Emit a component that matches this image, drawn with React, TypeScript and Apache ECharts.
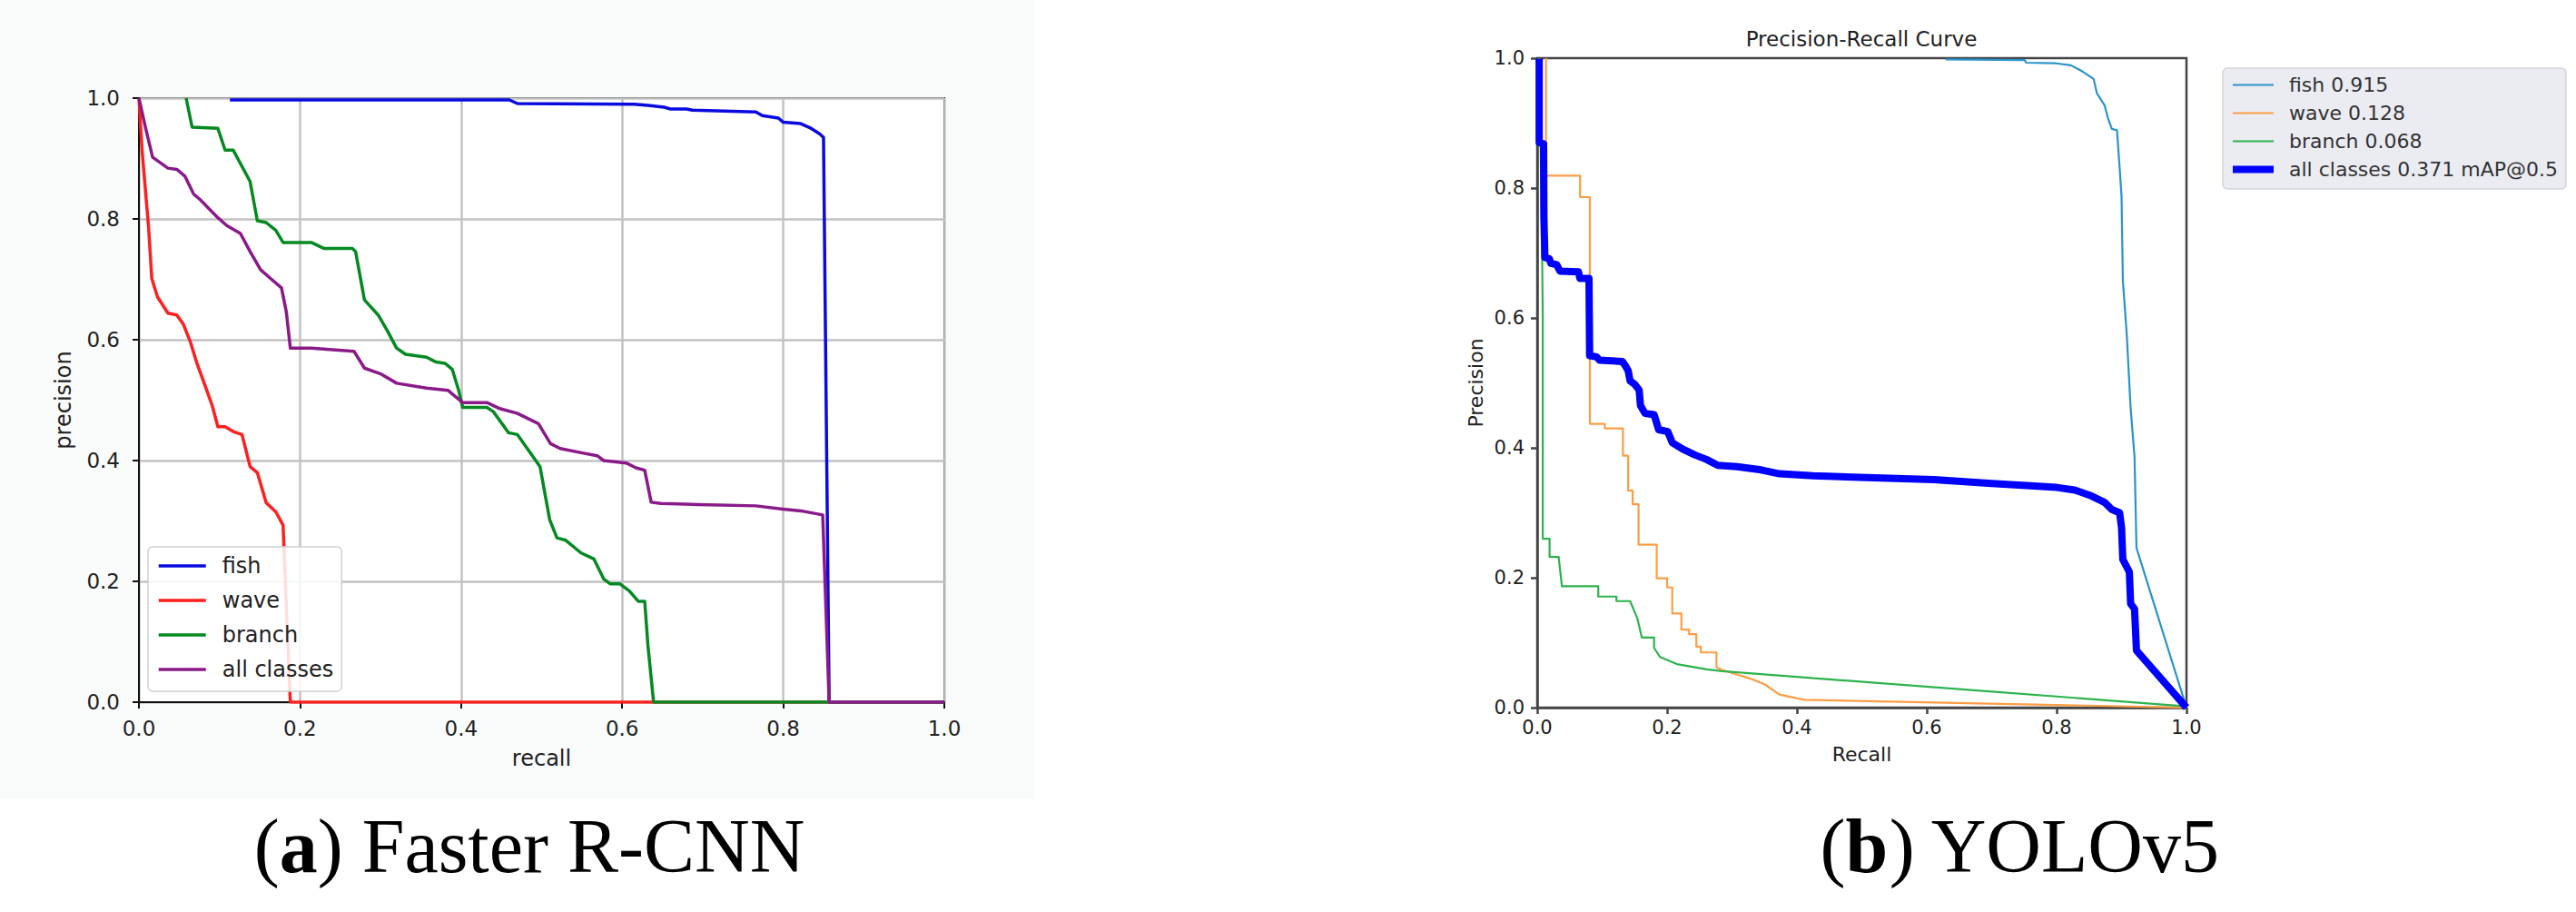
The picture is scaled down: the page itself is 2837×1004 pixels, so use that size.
import React, { useEffect, useRef } from 'react';
import * as echarts from 'echarts';

// ---------- data ----------
const TICK_STEP = 0.2;
const AXIS_MIN = 0;
const AXIS_MAX = 1;

// (a) Faster R-CNN  — [recall, precision]
const frcnnNames = ['fish', 'wave', 'branch', 'all classes'];
const frcnnFish: number[][] = [
  [0.113, 0.997], [0.46, 0.997], [0.47, 0.991], [0.615, 0.99], [0.632, 0.988], [0.652, 0.985],
  [0.66, 0.982], [0.68, 0.982], [0.687, 0.98], [0.766, 0.977], [0.774, 0.971], [0.794, 0.967],
  [0.8, 0.96], [0.821, 0.958], [0.833, 0.951], [0.845, 0.941], [0.85, 0.935], [0.857, 0.0], [1.0, 0.0],
];
const frcnnWave: number[][] = [
  [0.0, 1.0], [0.004, 0.912], [0.012, 0.786], [0.016, 0.701], [0.023, 0.671], [0.036, 0.644],
  [0.047, 0.641], [0.055, 0.626], [0.064, 0.596], [0.072, 0.561], [0.083, 0.521], [0.091, 0.491],
  [0.098, 0.456], [0.107, 0.456], [0.117, 0.448], [0.128, 0.443], [0.138, 0.39], [0.147, 0.38],
  [0.158, 0.33], [0.17, 0.315], [0.179, 0.293], [0.18, 0.26], [0.184, 0.125], [0.188, 0.0], [1.0, 0.0],
];
const frcnnBranch: number[][] = [
  [0.0586, 1.0], [0.066, 0.952], [0.098, 0.95], [0.107, 0.914], [0.117, 0.914], [0.138, 0.862],
  [0.147, 0.797], [0.158, 0.794], [0.17, 0.781], [0.179, 0.761], [0.214, 0.761], [0.23, 0.751],
  [0.265, 0.751], [0.269, 0.746], [0.28, 0.666], [0.297, 0.641], [0.308, 0.616], [0.32, 0.586],
  [0.331, 0.576], [0.357, 0.571], [0.369, 0.563], [0.38, 0.561], [0.389, 0.551], [0.397, 0.516],
  [0.402, 0.488], [0.432, 0.488], [0.44, 0.481], [0.459, 0.446], [0.47, 0.443], [0.498, 0.39],
  [0.51, 0.302], [0.519, 0.272], [0.53, 0.268], [0.549, 0.247], [0.565, 0.237], [0.577, 0.204],
  [0.585, 0.196], [0.597, 0.196], [0.609, 0.184], [0.62, 0.167], [0.628, 0.167], [0.632, 0.094],
  [0.639, 0.0], [1.0, 0.0],
];
const frcnnAll: number[][] = [
  [0.0, 1.0], [0.008, 0.952], [0.017, 0.902], [0.036, 0.884], [0.047, 0.882], [0.057, 0.871],
  [0.068, 0.841], [0.076, 0.832], [0.098, 0.802], [0.109, 0.789], [0.126, 0.776], [0.138, 0.746],
  [0.151, 0.716], [0.162, 0.703], [0.177, 0.686], [0.183, 0.646], [0.188, 0.586], [0.214, 0.586],
  [0.267, 0.581], [0.28, 0.553], [0.301, 0.543], [0.32, 0.528], [0.357, 0.52], [0.384, 0.516],
  [0.391, 0.508], [0.402, 0.496], [0.432, 0.496], [0.448, 0.486], [0.47, 0.478], [0.496, 0.461],
  [0.511, 0.428], [0.523, 0.42], [0.549, 0.413], [0.569, 0.408], [0.577, 0.4], [0.605, 0.396],
  [0.617, 0.388], [0.628, 0.384], [0.636, 0.331], [0.648, 0.329], [0.695, 0.327], [0.766, 0.325],
  [0.797, 0.32], [0.825, 0.316], [0.849, 0.31], [0.857, 0.0], [1.0, 0.0],
];

// (b) YOLOv5 — [recall, precision]
const yoloNames = ['fish 0.915', 'wave 0.128', 'branch 0.068', 'all classes 0.371 mAP@0.5'];
const yoloFish: number[][] = [
  [0.629, 0.998], [0.751, 0.997], [0.753, 0.993], [0.799, 0.992], [0.822, 0.989], [0.839, 0.98],
  [0.857, 0.968], [0.862, 0.946], [0.874, 0.927], [0.879, 0.908], [0.885, 0.891], [0.893, 0.889],
  [0.897, 0.832], [0.9, 0.787], [0.902, 0.658], [0.908, 0.575], [0.914, 0.461], [0.92, 0.386],
  [0.923, 0.246], [1.0, 0.0],
];
const yoloWave: number[][] = [
  [0.0135, 1.0], [0.0135, 0.819], [0.066, 0.819], [0.066, 0.786], [0.081, 0.786], [0.081, 0.437],
  [0.104, 0.437], [0.104, 0.43], [0.132, 0.43], [0.132, 0.388], [0.14, 0.388], [0.14, 0.334],
  [0.147, 0.334], [0.147, 0.313], [0.156, 0.313], [0.156, 0.251], [0.184, 0.251], [0.184, 0.199],
  [0.2, 0.199], [0.2, 0.185], [0.208, 0.185], [0.208, 0.145], [0.222, 0.145], [0.222, 0.12],
  [0.234, 0.12], [0.234, 0.113], [0.245, 0.113], [0.245, 0.094], [0.252, 0.094], [0.252, 0.085],
  [0.276, 0.085], [0.276, 0.062], [0.285, 0.058], [0.327, 0.045], [0.35, 0.036], [0.373, 0.02],
  [0.411, 0.012], [0.611, 0.008], [1.0, 0.0],
];
const yoloBranch: number[][] = [
  [0.003, 1.0], [0.007, 0.754], [0.0085, 0.6], [0.0085, 0.26], [0.019, 0.26], [0.019, 0.232],
  [0.033, 0.232], [0.038, 0.187], [0.094, 0.187], [0.094, 0.171], [0.122, 0.171], [0.122, 0.164],
  [0.143, 0.164], [0.154, 0.138], [0.161, 0.108], [0.18, 0.108], [0.18, 0.092], [0.189, 0.078],
  [0.215, 0.067], [0.261, 0.059], [0.285, 0.056], [1.0, 0.002],
];
const yoloAll: number[][] = [
  [0.003, 0.999], [0.003, 0.87], [0.0098, 0.868], [0.0103, 0.754], [0.0118, 0.693], [0.0187, 0.691],
  [0.021, 0.684], [0.03, 0.682], [0.035, 0.672], [0.0634, 0.671], [0.0657, 0.661], [0.0797, 0.661],
  [0.0807, 0.542], [0.0914, 0.54], [0.096, 0.535], [0.131, 0.533], [0.136, 0.526], [0.14, 0.519],
  [0.143, 0.503], [0.15, 0.498], [0.157, 0.489], [0.159, 0.465], [0.166, 0.453], [0.18, 0.451],
  [0.187, 0.428], [0.201, 0.425], [0.208, 0.408], [0.224, 0.398], [0.243, 0.389], [0.261, 0.382],
  [0.278, 0.373], [0.308, 0.371], [0.345, 0.366], [0.373, 0.36], [0.425, 0.357], [0.611, 0.351],
  [0.7, 0.345], [0.753, 0.342], [0.8, 0.339], [0.828, 0.335], [0.851, 0.327], [0.874, 0.316],
  [0.885, 0.305], [0.897, 0.3], [0.9, 0.277], [0.902, 0.228], [0.912, 0.209], [0.914, 0.16],
  [0.92, 0.152], [0.923, 0.088], [1.0, 0.0],
];

// ---------- styles ----------
const FONT = 'DejaVu Sans';
const SERIF = 'Liberation Serif';
const frcnnColors = ['#0a0ae0', '#ff1f1f', '#058a22', '#8a1a8a'];
const yoloColors = ['#2b93cc', '#ff9d45', '#2db34e', '#0000ff'];
const yoloWidths = [2.2, 2.2, 2.2, 8];

export default function App() {
  const ref = useRef<HTMLDivElement>(null);

  useEffect(() => {
    if (!ref.current) return;
    const chart = echarts.init(ref.current, null, { renderer: 'svg' });
    const fmt = (v: number) => v.toFixed(1);

    const axisBase = (gridIndex: number, color: string, lw: number) => ({
      gridIndex,
      type: 'value',
      min: AXIS_MIN,
      max: AXIS_MAX,
      interval: TICK_STEP,
      axisLine: { show: true, onZero: false, lineStyle: { color, width: lw } },
      axisTick: { show: true, length: 7, lineStyle: { color, width: lw } },
    });

    const leftData = [frcnnFish, frcnnWave, frcnnBranch, frcnnAll];
    const rightData = [yoloFish, yoloWave, yoloBranch, yoloAll];

    const series: any[] = [];
    frcnnNames.forEach((name, i) => {
      series.push({
        type: 'line', name, xAxisIndex: 0, yAxisIndex: 0, data: leftData[i],
        symbol: 'none', silent: true, animation: false,
        lineStyle: { color: frcnnColors[i], width: 3.5, join: 'round' },
        itemStyle: { color: frcnnColors[i] },
        emphasis: { disabled: true },
      });
    });
    yoloNames.forEach((name, i) => {
      series.push({
        type: 'line', name, xAxisIndex: 1, yAxisIndex: 1, data: rightData[i],
        symbol: 'none', silent: true, animation: false,
        lineStyle: { color: yoloColors[i], width: yoloWidths[i], join: 'round' },
        itemStyle: { color: yoloColors[i] },
        emphasis: { disabled: true },
      });
    });

    chart.setOption({
      animation: false,
      backgroundColor: '#ffffff',
      title: {
        text: 'Precision-Recall Curve',
        left: 2050,
        top: 31,
        textAlign: 'center',
        padding: 0,
        textStyle: { fontFamily: FONT, fontSize: 23, fontWeight: 'normal', color: '#222' },
      },
      grid: [
        { left: 153, top: 108, width: 887, height: 665, show: true, backgroundColor: '#fff', borderColor: '#111', borderWidth: 2, outerBoundsMode: 'none', containLabel: false },
        { left: 1693, top: 64, width: 715, height: 715, show: true, backgroundColor: '#fff', borderColor: '#444', borderWidth: 2.5, outerBoundsMode: 'none', containLabel: false },
      ],
      xAxis: [
        {
          ...axisBase(0, '#111', 2),
          name: 'recall', nameLocation: 'middle', nameGap: 50,
          nameTextStyle: { fontFamily: FONT, fontSize: 24, color: '#222' },
          axisLabel: { formatter: fmt, fontFamily: FONT, fontSize: 23, color: '#222', margin: 17 },
          splitLine: { show: true, lineStyle: { color: '#c2c2c2', width: 2.5 } },
        },
        {
          ...axisBase(1, '#444', 2.5),
          name: 'Recall', nameLocation: 'middle', nameGap: 40,
          nameTextStyle: { fontFamily: FONT, fontSize: 22, color: '#222' },
          axisLabel: { formatter: fmt, fontFamily: FONT, fontSize: 21, color: '#222', margin: 11 },
          splitLine: { show: false },
        },
      ],
      yAxis: [
        {
          ...axisBase(0, '#111', 2),
          name: 'precision', nameLocation: 'middle', nameGap: 71,
          nameTextStyle: { fontFamily: FONT, fontSize: 24, color: '#222' },
          axisLabel: { formatter: fmt, fontFamily: FONT, fontSize: 23, color: '#222', margin: 21 },
          splitLine: { show: true, lineStyle: { color: '#c2c2c2', width: 2.5 } },
        },
        {
          ...axisBase(1, '#444', 2.5),
          name: 'Precision', nameLocation: 'middle', nameGap: 57,
          nameTextStyle: { fontFamily: FONT, fontSize: 22, color: '#222' },
          axisLabel: { formatter: fmt, fontFamily: FONT, fontSize: 21, color: '#222', margin: 14 },
          splitLine: { show: false },
        },
      ],
      legend: [
        {
          left: 163, top: 602, orient: 'vertical', selectedMode: false,
          data: frcnnNames.map((n) => ({ name: n, lineStyle: { width: 3.5 } })),
          itemWidth: 52, itemHeight: 14, itemGap: 8,
          itemStyle: { opacity: 0 },
          padding: [6, 9, 9, 10],
          backgroundColor: 'rgba(255,255,255,0.85)', borderColor: '#d0d0d0', borderWidth: 1.5, borderRadius: 5,
          textStyle: { fontFamily: FONT, fontSize: 24, color: '#222', lineHeight: 30, padding: [0, 0, 0, 13] },
        },
        {
          left: 2448, top: 75, orient: 'vertical', selectedMode: false,
          data: yoloNames.map((n, i) => ({ name: n, lineStyle: { width: yoloWidths[i] } })),
          itemWidth: 45, itemHeight: 12, itemGap: 6,
          itemStyle: { opacity: 0 },
          padding: [6, 9, 9, 7],
          backgroundColor: '#ebebf2', borderColor: '#d4d4dc', borderWidth: 1.5, borderRadius: 5,
          textStyle: { fontFamily: FONT, fontSize: 22, color: '#333', lineHeight: 25, padding: [0, 0, 0, 12] },
        },
      ],
      graphic: [
        {
          type: 'rect', z: -10, silent: true,
          shape: { x: 0, y: 0, width: 1140, height: 880 },
          style: { fill: '#f9fbfb' },
        },
        {
          type: 'text', x: 583, y: 931, silent: true,
          style: {
            text: '({b|a}) Faster R-CNN',
            fontFamily: SERIF, fontSize: 84, fill: '#000',
            align: 'center', verticalAlign: 'middle',
            rich: { b: { fontFamily: SERIF, fontSize: 84, fontWeight: 'bold', fill: '#000' } },
          },
        },
        {
          type: 'text', x: 2225, y: 931, silent: true,
          style: {
            text: '({b|b}) YOLOv5',
            fontFamily: SERIF, fontSize: 84, fill: '#000',
            align: 'center', verticalAlign: 'middle',
            rich: { b: { fontFamily: SERIF, fontSize: 84, fontWeight: 'bold', fill: '#000' } },
          },
        },
      ],
      series,
    });

    return () => chart.dispose();
  }, []);

  return (
    <div
      ref={ref}
      style={{ position: 'absolute', left: 0, top: 0, width: 2837, height: 1004 }}
    />
  );
}
